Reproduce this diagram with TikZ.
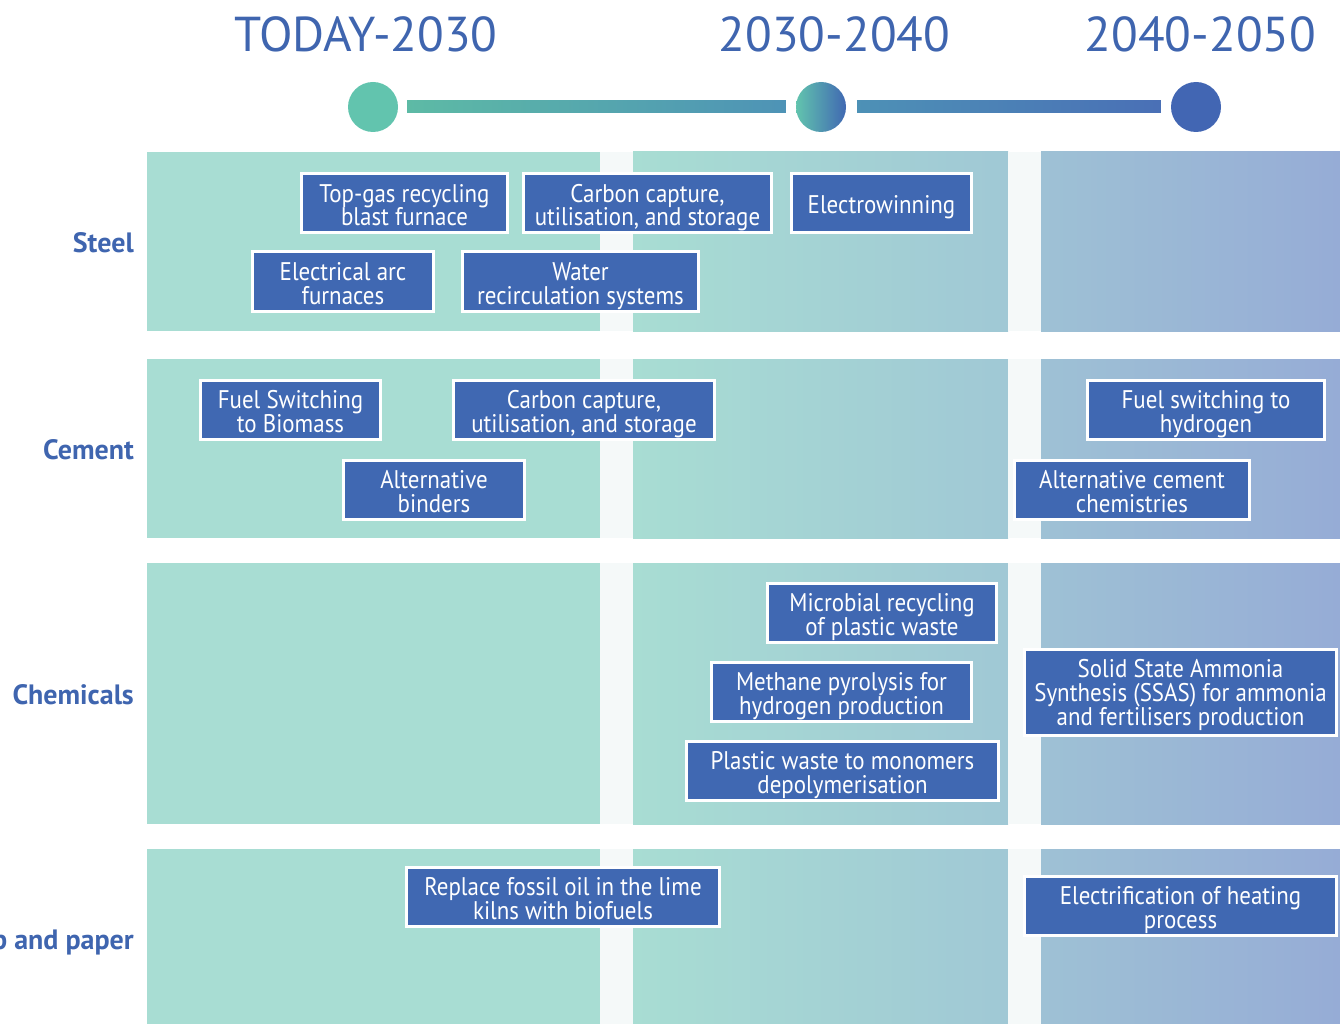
\documentclass[tikz,border=0pt]{standalone}
\usepackage{fontspec}
\setmainfont{PT Sans}[FakeStretch=0.9]
\newfontfamily\yearfont{PT Sans}
\newfontfamily\sectorfont{PT Sans}
\usetikzlibrary{positioning}

\definecolor{techblue}{HTML}{4068B2}
\definecolor{titleblue}{HTML}{3F65AF}
\definecolor{bandteal}{HTML}{A8DDD3}
\definecolor{bandmid}{HTML}{A0C8D5}
\definecolor{bandright}{HTML}{9EC1D5}
\definecolor{bandlav}{HTML}{96ACD6}
\definecolor{stripgrey}{HTML}{F5F9F9}
\definecolor{dotteal}{HTML}{62C4AE}
\definecolor{dotmid}{HTML}{4E93B6}
\definecolor{dotblue}{HTML}{4266B3}

\tikzset{
  techbox/.style={rectangle, fill=techblue, draw=white, line width=3pt, text=white,
    align=center, font=\fontsize{25.5}{24}\selectfont, inner sep=3pt,
    text height=49pt, text depth=4pt},
  oneline/.style={text height=37pt, text depth=16pt},
  threelines/.style={text height=73pt, text depth=7pt},
  sector/.style={anchor=base east, inner sep=0pt, text=titleblue,
    font=\sectorfont\bfseries\fontsize{28}{30}\selectfont},
  period/.style={anchor=base, text=titleblue, font=\yearfont\fontsize{49}{50}\selectfont},
  dot/.style={circle, minimum size=50pt, inner sep=0pt},
}

\begin{document}
\begin{tikzpicture}[x=1pt, y=-1pt]
  \useasboundingbox (0,0) rectangle (1340,1024);

  % bands
  \foreach \top/\bot in {152/331, 359/538, 563/824, 849/1030} {
    \fill[bandteal] (147,\top) rectangle (634,\bot);
    \shade[left color=bandteal, right color=bandmid] (633,\top) rectangle (1008,\bot);
    \shade[left color=bandright, right color=bandlav] (1041,\top) rectangle (1340,\bot);
    \fill[stripgrey] (600,\top) rectangle (633,\bot);
    \fill[stripgrey] (1008,\top) rectangle (1041,\bot);
  }

  % periods
  \node[period] (p1) at (366,52) {TODAY-2030};
  \node[period] (p2) at (834.5,52) {2030-2040};
  \node[period] (p3) at (1200.5,52) {2040-2050};

  % timeline
  \node[dot, fill=dotteal] (d1) at (373,107) {};
  \node[dot, left color=dotteal, right color=techblue] (d2) at (821,107) {};
  \node[dot, fill=dotblue] (d3) at (1196,107) {};
  \shade[left color=dotteal!95!black, right color=dotmid]
    ([xshift=9pt, yshift=6pt]d1.east) rectangle ([xshift=-10pt, yshift=-6pt]d2.west);
  \shade[left color=dotmid!95!techblue, right color=techblue!95!white]
    ([xshift=11pt, yshift=6pt]d2.east) rectangle ([xshift=-10pt, yshift=-6pt]d3.west);

  % sectors
  \node[sector] (steel) at (134,252) {Steel};
  \node[sector] (cement) at (134,459) {Cement};
  \node[sector] (chem) at (134,704) {Chemicals};
  \node[sector] (pulp) at (134,949) {Pulp and paper};

  % steel
  \node[techbox, minimum width=206pt] (st1) at (404.5,203.5) {Top-gas recycling\\blast furnace};
  \node[techbox, minimum width=248pt] (st2) at (647.5,203.5) {Carbon capture,\\utilisation, and storage};
  \node[techbox, oneline, minimum width=180pt] (st3) at (881.5,203.5) {Electrowinning};
  \node[techbox, minimum width=181pt] (st4) at (343,281.5) {Electrical arc\\furnaces};
  \node[techbox, minimum width=236pt] (st5) at (580.5,281.5) {Water\\recirculation systems};

  % cement
  \node[techbox, minimum width=180pt] (ce1) at (290.5,410) {Fuel Switching\\to Biomass};
  \node[techbox, minimum width=261pt] (ce2) at (584,410) {Carbon capture,\\utilisation, and storage};
  \node[techbox, minimum width=237pt] (ce3) at (1206,410) {Fuel switching to\\hydrogen};
  \node[techbox, minimum width=181pt] (ce4) at (434,490) {Alternative\\binders};
  \node[techbox, minimum width=235pt] (ce5) at (1132,490) {Alternative cement\\chemistries};

  % chemicals
  \node[techbox, minimum width=229pt] (ch1) at (882,612.5) {Microbial recycling\\of plastic waste};
  \node[techbox, minimum width=260pt] (ch2) at (841.5,691.5) {Methane pyrolysis for\\hydrogen production};
  \node[techbox, minimum width=312pt] (ch3) at (842.5,770.5) {Plastic waste to monomers\\depolymerisation};
  \node[techbox, threelines, minimum width=312pt] (ch4) at (1180.5,692.5)
    {Solid State Ammonia\\Synthesis (SSAS) for ammonia\\and fertilisers production};

  % pulp and paper
  \node[techbox, minimum width=313pt] (pp1) at (563,897) {Replace fossil oil in the lime\\kilns with biofuels};
  \node[techbox, minimum width=312pt] (pp2) at (1180.5,906) {Electrification of heating\\process};
\end{tikzpicture}
\end{document}
